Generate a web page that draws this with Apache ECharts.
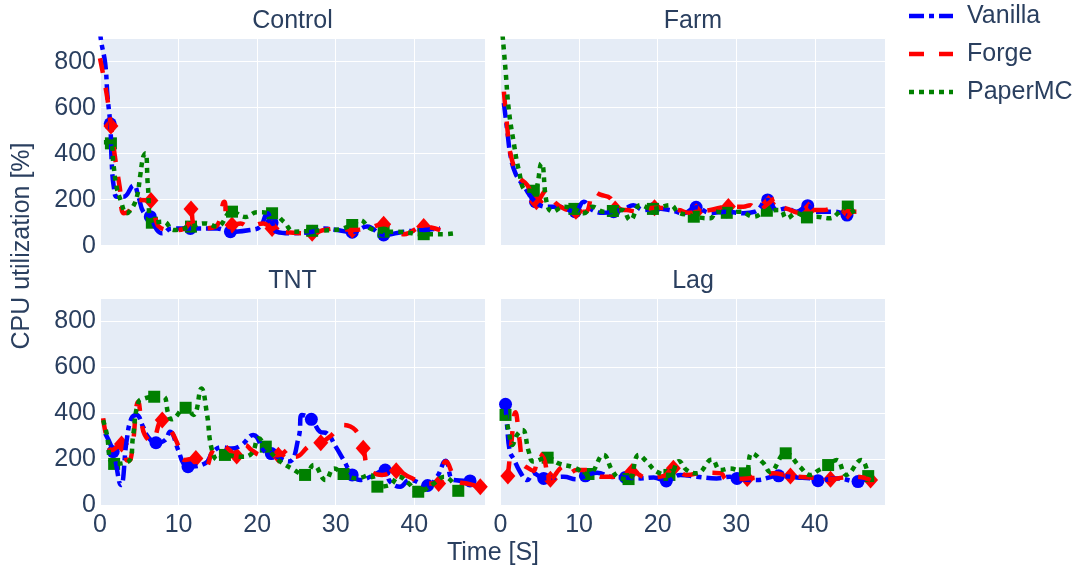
<!DOCTYPE html>
<html><head><meta charset="utf-8">
<script src="https://cdn.jsdelivr.net/npm/echarts@6/dist/echarts.min.js"></script>
<style>html,body{margin:0;padding:0;background:#fff}#c{width:1083px;height:569px}</style>
</head><body><div id="c"></div>
<script>
const panelTitles = ['Control', 'Farm', 'TNT', 'Lag'];
const seriesNames = ['Vanilla', 'Forge', 'PaperMC'];
const xTickValues = [0, 10, 20, 30, 40];
const yTickValues = [0, 200, 400, 600, 800];
const xLabel = 'Time [S]';
const yLabel = 'CPU utilization [%]';

// [time (s), CPU %, marker flag]
const controlVanilla = [[0,960],[0.1,900],[0.66,793],[0.96,648],[1.3,530,1],[1.5,358],[1.75,257],[2.15,213],[3.0,213],[4.27,262],[4.9,213],[5.5,148],[6.4,126,1],[7.25,68],[7.9,54],[9.1,75],[11.5,75,1],[14.9,75],[16.6,61,1],[19.1,68],[20.4,83],[21.3,141],[21.9,100,1],[22.5,60],[24.2,54],[27,61,1],[28.5,75],[30.2,68],[32.1,59,1],[34,83],[36.1,47,1],[38.7,61],[41.2,68,1],[43.3,75]];
const controlForge = [[0,815],[0.9,648],[1.39,520,1],[1.9,387],[2.5,257],[3.0,141],[3.6,148],[4.7,199],[6.48,196,1],[7.5,83],[9.4,68],[11.0,80],[11.58,160,1],[12.0,83],[12.8,75],[14.7,83],[15.8,191],[16.2,97],[16.8,90,1],[17.9,97],[18.9,83],[20.8,97],[21.9,75,1],[24.2,57],[27,54,1],[28.5,68],[30.2,75],[32.1,68,1],[34,75],[36.1,93,1],[38.7,50],[41.2,83,1],[43.3,68]];
const controlPaper = [[0.5,450],[1.39,445,1],[1.7,358],[2.1,257],[2.6,200],[3.4,141],[4.1,165],[4.7,213],[5.1,300],[5.5,387],[5.8,402],[6.1,257],[6.6,100,1],[8.1,104],[9.4,68],[11.58,83,1],[13.4,97],[14.9,83],[16.8,148,1],[18.5,125],[20,145],[21.9,141,1],[23.4,104],[24.7,61],[27,65,1],[29.8,68],[32.1,90,1],[33.1,111],[34.4,75],[36.1,61,1],[37.8,61],[41.2,50,1],[43.8,50],[45.5,56]];

const farmVanilla = [[0.43,620],[0.85,503],[1.3,387],[1.9,315],[3.0,257],[4.45,191,1],[5.9,169],[7.4,169],[8.7,155],[9.5,148,1],[10.6,191],[11.7,155],[13.1,143],[14.4,148,1],[15.9,162],[16.9,176],[18.2,155],[19.5,162,1],[21.6,155],[23.3,141],[24.9,167,1],[26.7,143],[28.8,148,1],[30.9,141],[32.4,148],[34.0,199,1],[35.2,155],[36.4,162],[37.7,148],[39.1,174,1],[40.2,148],[42.4,148],[44.1,133,1]];
const farmForge = [[0.43,670],[0.85,518],[1.3,395],[2.33,300],[3.4,264],[4.57,191,1],[5.9,242],[6.6,200],[8.05,162],[9.6,150,1],[10.8,148],[11.9,236],[12.7,222],[14.0,206],[14.6,160,1],[16.1,155],[17.4,148],[19.6,165,1],[21.6,162],[22.7,155],[24.1,143],[24.9,148,1],[26.7,155],[29.0,170,1],[30.9,169],[31.8,176],[32.6,148],[34.1,184,1],[35,206],[35.6,176],[36.9,155],[38.1,143],[39.2,155,1],[41.1,155],[42.4,162],[44.2,150,1],[45.3,148]];
const farmPaper = [[0.15,960],[0.64,764],[1.06,590],[1.7,445],[2.33,329],[3.2,242],[4.24,239,1],[5.2,358],[5.9,184],[6.6,148],[8.05,169],[9.4,160,1],[10.6,141],[11.7,169],[13.1,148],[14.3,151,1],[15.5,155],[16.5,111],[17.8,176],[19.4,160,1],[21.6,176],[22.7,143],[24.1,133],[24.6,126,1],[26.7,119],[27.5,148],[28.8,143,1],[30.5,148],[32.2,126],[33.9,152,1],[35.6,155],[36.4,119],[37.7,141],[39.0,123,1],[40.2,126],[41.9,119],[43.2,148],[44.2,170,1],[45.1,133]];

const tntVanilla = [[0.66,313],[1.68,233,1],[2.66,88],[3.4,284],[4.0,378],[4.65,393],[5.5,340],[6.1,298],[7.12,272,1],[8.3,284],[8.9,320],[9.96,240],[10.6,183],[11.2,168,1],[13.4,183],[14.4,233],[15.5,252],[16.75,247],[18.0,262],[19.5,306],[21,233],[21.8,225,1],[24,190],[25.3,298],[25.7,393],[26.9,374,1],[28.0,320],[28.9,312],[30,255],[31.0,197],[32.1,132,1],[33.1,110],[34.4,124],[36.3,153,1],[36.9,104],[38.2,81],[39.4,110],[41.7,86,1],[42.9,124],[44.0,194],[45,110],[47.1,106,1]];
const tntForge = [[0.4,378],[0.83,298],[1.5,240],[2.74,266,1],[3.5,195],[3.9,200],[4.87,450],[5.3,357],[5.7,306],[6.56,277],[7.92,371,1],[9.1,320],[9.75,277],[10.8,197],[12.2,204,1],[13.4,168],[14.4,240],[15.5,262],[16.5,240],[17.4,214,1],[18.5,262],[19.3,240],[20.6,218],[22.7,218,1],[24.2,247],[24.9,211],[26.8,262],[28.1,272,1],[29.5,306],[30.8,349],[32.5,327],[33.5,248,1],[34.2,160],[35.9,132],[37.7,150,1],[39.3,124],[41.6,95],[43.1,95,1],[44,190],[45.5,104],[46.7,95],[48.4,81,1]];
const tntPaper = [[0.4,370],[0.8,320],[1.8,180,1],[3.8,197],[4.2,298],[4.9,450],[5.7,465],[6.9,472,1],[8.05,472],[8.7,397],[9.1,374],[10.9,424,1],[11.9,393],[12.9,508],[13.6,400],[14.2,247],[15.0,197],[15.9,219,1],[18.0,211],[19.3,225],[20.2,291],[21.1,255,1],[22.7,197],[24.4,160],[26.1,132,1],[27.2,175],[28.7,110],[29.8,160],[31.0,136,1],[32.7,117],[34.4,132],[35.3,81,1],[36.9,88],[38.0,124],[39.3,95],[40.5,59,1],[42.5,95],[43.8,124],[45.6,63,1]];

const lagVanilla = [[0.64,439,1],[0.85,342],[1.2,233],[1.7,200],[2.5,145],[3.4,110],[4.2,139],[5.5,117,1],[8.05,124],[9.7,113],[10.8,128,1],[12.3,142],[14,124],[15.9,121,1],[17.8,117],[19.5,121],[21.1,106,1],[22.9,132],[25,124],[27.5,117],[29.2,124],[30.1,117,1],[32.6,110],[35.4,128,1],[37.7,121],[39.4,117],[40.4,107,1],[42.8,117],[45.5,103,1],[46.6,121]];
const lagForge = [[0.94,127,1],[1.35,260],[1.9,405],[2.4,290],[2.9,180],[3.6,160],[4.2,150],[4.9,225],[5.5,205],[6.35,113,1],[8.05,168],[8.7,139],[9.7,153],[11.4,153],[12.9,124],[14.4,124],[16.7,146,1],[18.6,121],[20.8,128],[22.0,161,1],[23.7,132],[25.8,142],[28,139],[28.8,113],[31.4,117,1],[33.5,124],[34.7,139],[36.9,127,1],[39.4,121],[42.0,113,1],[43.6,121],[45.3,124],[47.1,110,1]];
const lagPaper = [[0.64,393,1],[1.06,320],[1.5,262],[2.1,306],[2.8,327],[3.6,233],[4.2,190],[6.0,207,1],[7.4,182],[9.3,165],[11.2,136,1],[13.1,219],[14.2,153],[15.2,117],[16.3,114,1],[17.6,219],[18.6,190],[19.9,146],[21.5,132,1],[22.7,192],[23.7,153],[25,139],[26.9,199],[28,153],[29.2,160],[31.1,139,1],[32,226],[33.5,182],[34.3,146],[36.3,226,1],[38.1,168],[39.4,132],[40.5,153],[41.7,175,1],[42.8,197],[44.0,132],[45.9,197],[46.8,127,1]];

const panelData = [
  [controlVanilla, controlForge, controlPaper],
  [farmVanilla, farmForge, farmPaper],
  [tntVanilla, tntForge, tntPaper],
  [lagVanilla, lagForge, lagPaper]
];

const FONT = '"Liberation Sans", Arial, sans-serif';
const TXT = '#2a3f5f';
const colors = ['#0000ff', '#ff0000', '#008000'];
const dashes = [[15, 5, 5, 5], [15, 15], [5, 5]];
const symbols = ['circle', 'diamond', 'rect'];
const symbolSizes = [13, [15, 17], 12];
const LW = 4.5;

const grids = [
  {left: 100, top: 38.7, width: 385, height: 207},
  {left: 500.5, top: 38.7, width: 385, height: 207},
  {left: 100, top: 298.3, width: 385, height: 207},
  {left: 500.5, top: 298.3, width: 385, height: 207}
];

const xAxes = grids.map((g, i) => ({
  type: 'value', gridIndex: i, min: 0, max: 49, interval: 10,
  axisLine: {show: false}, axisTick: {show: false},
  splitLine: {lineStyle: {color: '#ffffff', width: 1}},
  axisLabel: {show: i >= 2, showMaxLabel: false, margin: 7, fontSize: 25, color: TXT, fontFamily: FONT,
    formatter: v => xTickValues.includes(v) ? String(v) : ''}
}));
const yAxes = grids.map((g, i) => ({
  type: 'value', gridIndex: i, min: 0, max: 900, interval: 200,
  axisLine: {show: false}, axisTick: {show: false},
  splitLine: {lineStyle: {color: '#ffffff', width: 1}},
  axisLabel: {show: i % 2 === 0, showMaxLabel: false, margin: 4, fontSize: 25, color: TXT, fontFamily: FONT,
    formatter: v => yTickValues.includes(v) ? String(v) : ''}
}));

const series = [];
panelData.forEach((trio, i) => {
  trio.forEach((arr, j) => {
    series.push({
      type: 'line', name: seriesNames[j], xAxisIndex: i, yAxisIndex: i,
      data: arr.map(p => [p[0], p[1]]), smooth: 0.45, symbol: 'none', showSymbol: false,
      clip: true, silent: true,
      lineStyle: {color: colors[j], width: LW, type: dashes[j], cap: 'butt'}
    });
    series.push({
      type: 'scatter', name: seriesNames[j] + ' markers', xAxisIndex: i, yAxisIndex: i,
      data: arr.filter(p => p[2]).map(p => [p[0], p[1]]),
      symbol: symbols[j], symbolSize: symbolSizes[j], clip: true, silent: true,
      itemStyle: {color: colors[j], opacity: 1}
    });
  });
});

const graphics = [];
const titlePos = [[292.5, 21], [693, 21], [292.5, 281], [693, 281]];
panelTitles.forEach((t, i) => {
  graphics.push({type: 'text', x: titlePos[i][0], y: titlePos[i][1],
    style: {text: t, fontSize: 25, fontFamily: FONT, fill: TXT, textAlign: 'center', textVerticalAlign: 'middle'}});
});
graphics.push({type: 'text', x: 493, y: 553,
  style: {text: xLabel, fontSize: 25, fontFamily: FONT, fill: TXT, textAlign: 'center', textVerticalAlign: 'middle'}});
graphics.push({type: 'text', x: 22, y: 246, rotation: Math.PI / 2,
  style: {text: yLabel, fontSize: 25, fontFamily: FONT, fill: TXT, textAlign: 'center', textVerticalAlign: 'middle'}});
const legendY = [16, 54, 92];
seriesNames.forEach((n, j) => {
  graphics.push({type: 'line', shape: {x1: 909, y1: legendY[j], x2: 953, y2: legendY[j]},
    style: {stroke: colors[j], lineWidth: LW, lineDash: dashes[j]}});
  graphics.push({type: 'text', x: 967, y: legendY[j],
    style: {text: n, fontSize: 25, fontFamily: FONT, fill: TXT, textAlign: 'left', textVerticalAlign: 'middle'}});
});

const chart = echarts.init(document.getElementById('c'), null, {renderer: 'canvas'});
chart.setOption({
  animation: false,
  backgroundColor: '#ffffff',
  grid: grids.map(g => Object.assign({backgroundColor: '#E5ECF6', show: true, borderWidth: 0}, g)),
  xAxis: xAxes,
  yAxis: yAxes,
  series: series,
  graphic: graphics
});
</script></body></html>
